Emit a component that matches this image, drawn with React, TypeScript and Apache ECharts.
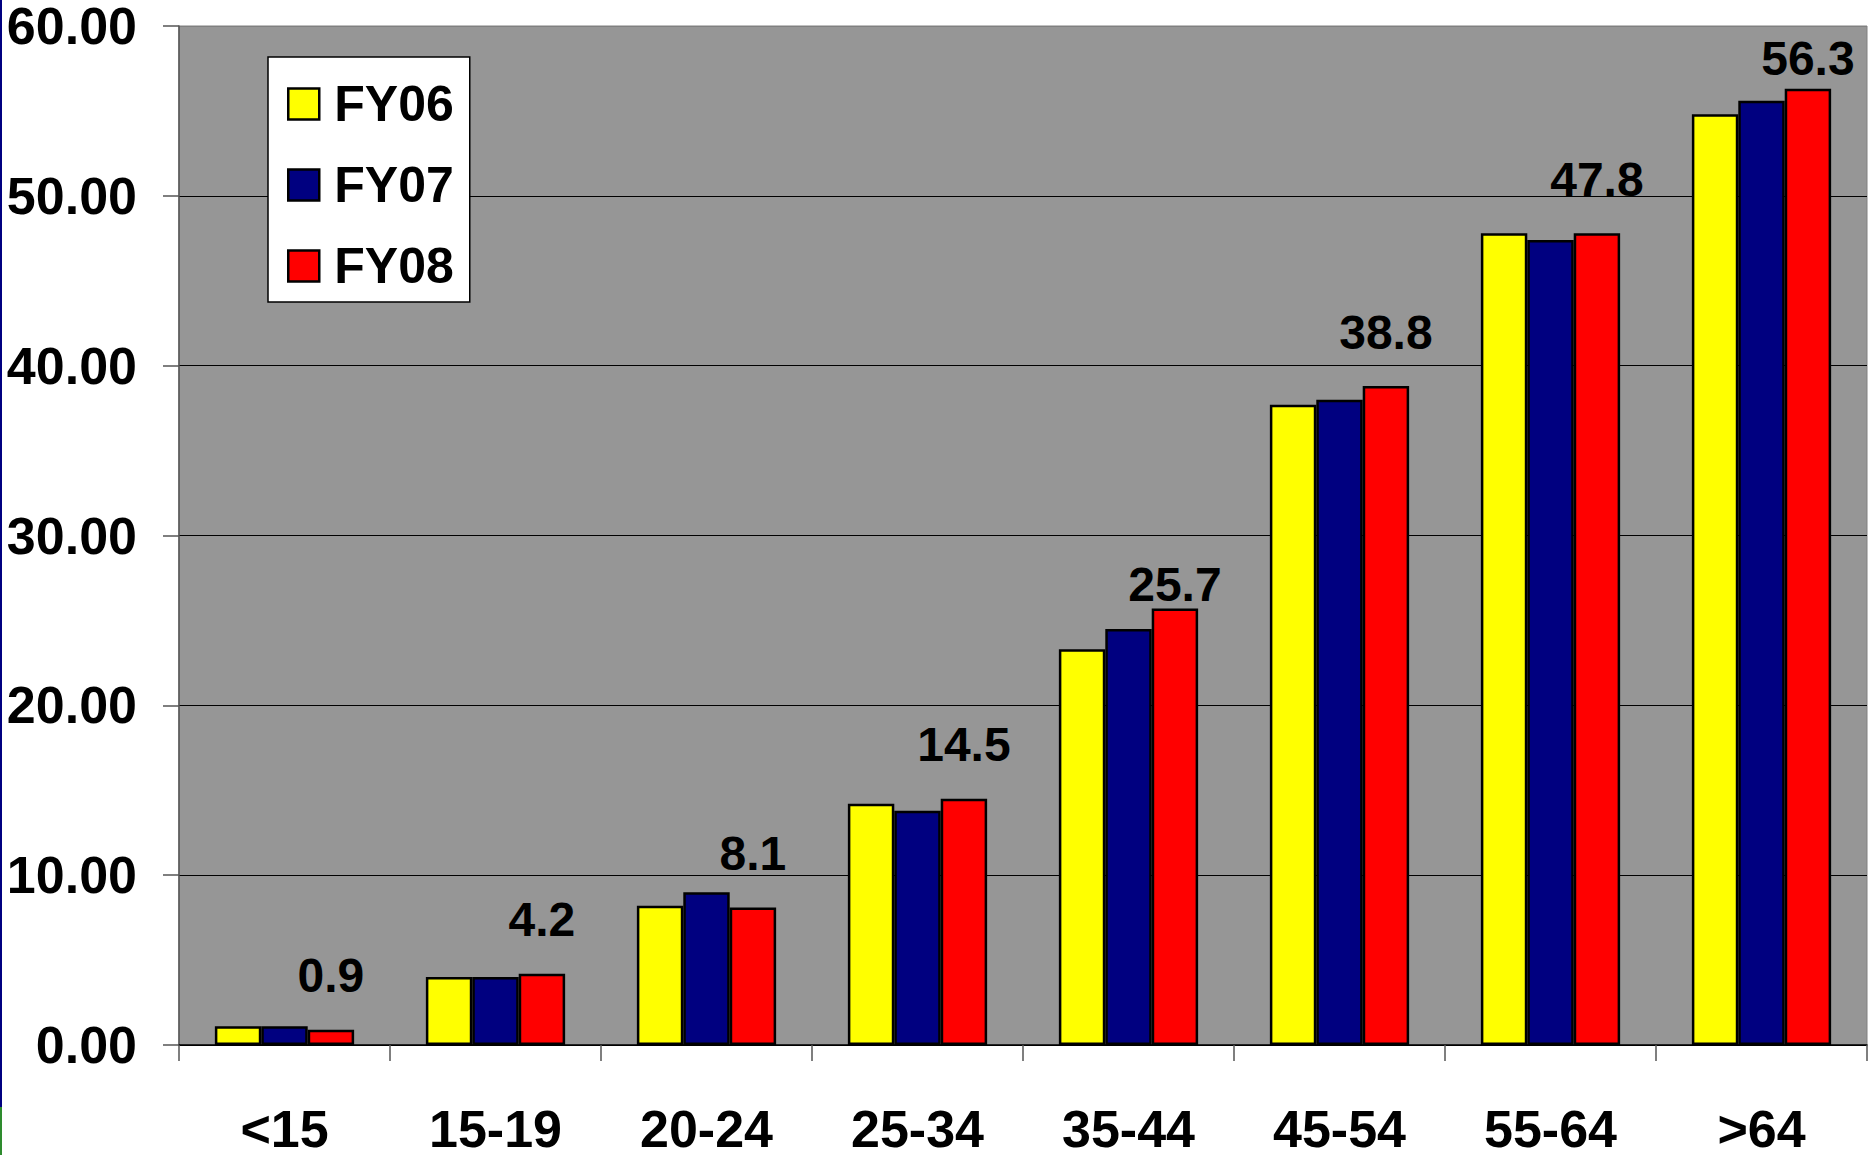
import React, { useEffect, useRef } from "react";
import * as echarts from "echarts";

const categories = ["<15", "15-19", "20-24", "25-34", "35-44", "45-54", "55-64", ">64"];
const seriesNames = ["FY06", "FY07", "FY08"];
const fy06 = [1.1, 4.0, 8.2, 14.2, 23.3, 37.7, 47.8, 54.8];
const fy07 = [1.1, 4.0, 9.0, 13.8, 24.5, 38.0, 47.4, 55.6];
const fy08 = [0.9, 4.2, 8.1, 14.5, 25.7, 38.8, 47.8, 56.3];
const seriesColors = ["#FFFF00", "#000080", "#FF0000"];

const FONT = "'Liberation Sans', Arial, sans-serif";

export default function App() {
  const ref = useRef<HTMLDivElement>(null);
  useEffect(() => {
    if (!ref.current) return;
    const chart = echarts.init(ref.current, null, { renderer: "svg" });
    const data = [fy06, fy07, fy08];
    // label offsets above bars (style only)
    const labelDistance = [30, 30, 30, 30, 0, 30, 30, 6];
    chart.setOption({
      animation: false,
      backgroundColor: "#ffffff",
      textStyle: { fontFamily: FONT },
      grid: {
        left: 179,
        right: 5,
        top: 26,
        bottom: 108,
        show: true,
        backgroundColor: "#969696",
        borderColor: "#808080",
        borderWidth: 1,
      },
      legend: {
        orient: "vertical",
        left: 268,
        top: 57,
        backgroundColor: "#ffffff",
        borderColor: "#000000",
        borderWidth: 1.5,
        padding: [22, 16, 11, 19],
        itemWidth: 31,
        itemHeight: 31,
        itemGap: 31,
        icon: "rect",
        itemStyle: { borderColor: "#000000", borderWidth: 2.5 },
        textStyle: {
          fontFamily: FONT,
          fontSize: 50,
          fontWeight: "bold",
          color: "#000000",
          lineHeight: 50,
          padding: [0, 0, 0, 10],
        },
        data: seriesNames,
      },
      xAxis: {
        type: "category",
        data: categories,
        axisLine: { show: true, lineStyle: { color: "#000000", width: 1.5 } },
        axisTick: { show: true, length: 16, lineStyle: { color: "#555555", width: 1.5 } },
        axisLabel: {
          margin: 64,
          fontFamily: FONT,
          fontSize: 52,
          lineHeight: 40,
          fontWeight: "bold",
          color: "#000000",
        },
        splitLine: { show: false },
      },
      yAxis: {
        type: "value",
        min: 0,
        max: 60,
        interval: 10,
        axisLine: { show: true, lineStyle: { color: "#555555", width: 1.5 } },
        axisTick: { show: true, length: 16, lineStyle: { color: "#555555", width: 1.5 } },
        axisLabel: {
          margin: 42,
          fontFamily: FONT,
          fontSize: 52,
          lineHeight: 40,
          fontWeight: "bold",
          color: "#000000",
          formatter: (v: number) => v.toFixed(2),
        },
        splitLine: {
          show: true,
          lineStyle: {
            color: ["#000000", "#000000", "#000000", "#000000", "#000000", "#000000", "#808080"],
            width: 1.2,
          },
        },
      },
      graphic: [
        { type: "rect", left: 0, top: 0, shape: { x: 0, y: 0, width: 2, height: 1107 }, style: { fill: "#000080" }, z: 100 },
        { type: "rect", left: 0, top: 1107, shape: { x: 0, y: 0, width: 2, height: 48 }, style: { fill: "#2e8b2e" }, z: 100 },
      ],
      series: seriesNames.map((name, i) => ({
        name,
        type: "bar",
        data:
          i === 2
            ? data[i].map((v, j) => ({ value: v, label: { distance: labelDistance[j] } }))
            : data[i],
        barGap: "0%",
        barCategoryGap: "34%",
        itemStyle: { color: seriesColors[i], borderColor: "#000000", borderWidth: 2.5 },
        label:
          i === 2
            ? {
                show: true,
                position: "top",
                distance: 30,
                fontFamily: FONT,
                fontSize: 48,
                fontWeight: "bold",
                color: "#000000",
                formatter: (p: any) => Number(p.value).toFixed(1),
              }
            : { show: false },
      })),
    });
    return () => chart.dispose();
  }, []);
  return (
    <div
      ref={ref}
      style={{ position: "fixed", left: 0, top: 0, width: 1872, height: 1155 }}
    />
  );
}
